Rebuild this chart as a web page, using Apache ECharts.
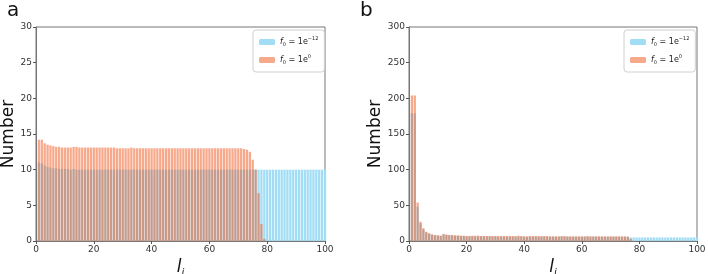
<!DOCTYPE html>
<html>
<head>
<meta charset="utf-8">
<script src="https://cdn.jsdelivr.net/npm/echarts@6/dist/echarts.min.js"></script>
<style>
  html, body { margin: 0; padding: 0; background: #fff; }
  #chart { width: 708px; height: 274px; }
</style>
</head>
<body>
<div id="chart"></div>
<script>
// bar positions l_i = 1..100
const idx = Array.from({ length: 100 }, (_, i) => i + 1);

const seriesNames = ['f0 = 1e-12', 'f0 = 1e0'];

// panel a
const aBlue = [
  11.0, 10.9, 10.6, 10.4, 10.3, 10.2, 10.2, 10.1, 10.1, 10.1,
  10.1, 10.0, 10.1, 10.0, 10.0, 10.0, 10.0, 10.0, 10.0, 10.0,
  10.0, 10.0, 10.0, 10.0, 10.0, 10.0, 10.0, 10.0, 10.0, 10.0,
  10.0, 10.0, 10.0, 10.0, 10.0, 10.0, 10.0, 10.0, 10.0, 10.0,
  10.0, 10.0, 10.0, 10.0, 10.0, 10.0, 10.0, 10.0, 10.0, 10.0,
  10.0, 10.0, 10.0, 10.0, 10.0, 10.0, 10.0, 10.0, 10.0, 10.0,
  10.0, 10.0, 10.0, 10.0, 10.0, 10.0, 10.0, 10.0, 10.0, 10.0,
  10.0, 10.0, 10.0, 10.0, 10.0, 10.0, 10.0, 10.0, 10.0, 10.0,
  10.0, 10.0, 10.0, 10.0, 10.0, 10.0, 10.0, 10.0, 10.0, 10.0,
  10.0, 10.0, 10.0, 10.0, 10.0, 10.0, 10.0, 10.0, 10.0, 10.0
];
const aOrange = [
  14.2, 14.2, 13.7, 13.5, 13.4, 13.3, 13.2, 13.2, 13.1, 13.1,
  13.1, 13.1, 13.2, 13.2, 13.1, 13.1, 13.1, 13.1, 13.1, 13.1,
  13.1, 13.1, 13.1, 13.1, 13.1, 13.1, 13.1, 13.0, 13.0, 13.0,
  13.0, 13.0, 13.1, 13.0, 13.0, 13.0, 13.0, 13.0, 13.0, 13.0,
  13.0, 13.0, 13.0, 13.0, 13.0, 13.0, 13.0, 13.0, 13.0, 13.0,
  13.0, 13.0, 13.0, 13.0, 13.0, 13.0, 13.0, 13.0, 13.0, 13.0,
  13.0, 13.0, 13.0, 13.0, 13.0, 13.0, 13.0, 13.0, 13.0, 13.0,
  13.0, 12.9, 12.8, 12.5, 11.4, 10.0, 6.7, 2.4, 0.3, 0,
  0, 0, 0, 0, 0, 0, 0, 0, 0, 0,
  0, 0, 0, 0, 0, 0, 0, 0, 0, 0
];

// panel b
const bBlue = [
  179, 179, 48, 25, 16, 12, 10, 8.5, 8, 7.5,
  7, 9, 8.5, 8, 7.5, 7.5, 7, 7, 7, 6.5,
  6.5, 6.5, 6.5, 6.5, 6.5, 6.5, 6.5, 6.5, 6.5, 6.5,
  6, 6, 6, 6, 6, 6, 6, 6, 6, 6,
  6, 6, 6, 6, 6, 6, 6, 6, 6, 6,
  6, 6, 6, 6, 6, 6, 6, 6, 6, 6,
  6, 6, 6, 6, 6, 6, 6, 6, 6, 6,
  6, 6, 6, 6, 6, 6, 5, 5, 5, 5,
  5, 5, 5, 5, 5, 5, 5, 5, 5, 5,
  5, 5, 5, 5, 5, 5, 5, 5, 5, 5
];
const bOrange = [
  204, 204, 54, 27, 18, 13, 11, 9.5, 8.5, 8,
  7.5, 10, 9, 8.5, 8.5, 8, 8, 7.5, 7.5, 7,
  7, 7.5, 7.5, 7.5, 7, 7, 7, 7, 7, 7,
  7, 7, 7, 7, 7, 7, 7, 7.5, 7, 6.5,
  6.5, 7, 7, 7, 7, 7, 7, 7, 6.5, 6.5,
  6.5, 6.5, 7, 7, 6.5, 6.5, 6.5, 6.5, 6.5, 6.5,
  6.5, 7, 6.5, 6.5, 6.5, 6.5, 6.5, 6.5, 6.5, 6.5,
  6.5, 6.5, 6.5, 6.5, 6.5, 6, 3, 0, 0, 0,
  0, 0, 0, 0, 0, 0, 0, 0, 0, 0,
  0, 0, 0, 0, 0, 0, 0, 0, 0, 0
];

const blueColor = '#a2ddf6';
const orangeColor = 'rgba(240,90,35,0.52)';

const richLegend = {
  i: { fontStyle: 'italic', fontSize: 8, color: '#222', lineHeight: 14, verticalAlign: 'middle' },
  s: { fontSize: 5, color: '#222', lineHeight: 14, verticalAlign: 'bottom', padding: [0, 0, 2, 0] },
  t: { fontSize: 8, color: '#222', lineHeight: 14, verticalAlign: 'middle' },
  p: { fontSize: 5, color: '#222', lineHeight: 14, verticalAlign: 'top', padding: [1, 0, 0, 0] }
};
function legendLabel(name) {
  return name === seriesNames[0]
    ? '{i|f}{s|0}{t| = 1e}{p|\u221212}'
    : '{i|f}{s|0}{t| = 1e}{p|0}';
}

const pairs = arr => arr.map((v, i) => [idx[i], v]);

function axisPair(gi, ymax, yint) {
  const x = {
    type: 'value', gridIndex: gi, min: 0, max: 100, interval: 20,
    name: '{a|l}{b|i}', nameLocation: 'middle', nameGap: 13,
    nameTextStyle: {
      lineHeight: 20,
      rich: {
        a: { fontSize: 17, lineHeight: 20, fontStyle: 'italic', color: '#111', fontFamily: 'DejaVu Sans', verticalAlign: 'top' },
        b: { fontSize: 10, lineHeight: 20, fontStyle: 'italic', color: '#111', fontFamily: 'DejaVu Sans', verticalAlign: 'bottom' }
      }
    },
    axisLine: { show: true, lineStyle: { color: '#777', width: 1 } },
    axisTick: { show: true, length: 3, lineStyle: { color: '#555' } },
    axisLabel: { fontSize: 9, color: '#333', margin: 4 },
    splitLine: { show: false }
  };
  const y = {
    type: 'value', gridIndex: gi, min: 0, max: ymax, interval: yint,
    name: 'Number', nameLocation: 'middle', nameRotate: 90, nameGap: 17,
    nameTextStyle: { fontSize: 17, color: '#111', fontFamily: 'DejaVu Sans' },
    axisLine: { show: true, lineStyle: { color: '#777', width: 1 } },
    axisTick: { show: true, length: 3, lineStyle: { color: '#555' } },
    axisLabel: { fontSize: 9, color: '#333', margin: 4 },
    splitLine: { show: false }
  };
  return [x, y];
}

const [ax, ay] = axisPair(0, 30, 5);
const [bx, by] = axisPair(1, 300, 50);

function barSeries(name, data, gi, color) {
  return {
    name: name, type: 'bar', xAxisIndex: gi, yAxisIndex: gi,
    data: pairs(data), barWidth: 2.3, barGap: '-100%',
    itemStyle: { color: color },
    clip: true
  };
}

function legendAt(left) {
  return {
    data: seriesNames, left: left, top: 30, orient: 'vertical',
    itemWidth: 16, itemHeight: 6, itemGap: 4,
    padding: [5, 6, 5, 6],
    borderColor: '#d0d0d0', borderWidth: 1, borderRadius: 3,
    backgroundColor: '#fff',
    formatter: legendLabel,
    textStyle: { fontSize: 8, color: '#222', rich: richLegend }
  };
}

const chart = echarts.init(document.getElementById('chart'));
chart.setOption({
  animation: false,
  backgroundColor: '#fff',
  textStyle: { fontFamily: 'DejaVu Sans' },
  title: [
    { text: 'a', left: 2, top: -4, textStyle: { fontSize: 20, fontWeight: 'normal', color: '#111' } },
    { text: 'b', left: 355, top: -4, textStyle: { fontSize: 20, fontWeight: 'normal', color: '#111' } }
  ],
  legend: [legendAt(253), legendAt(624)],
  grid: [
    { left: 36, top: 27, width: 289, height: 214, outerBoundsMode: 'none', show: true, borderColor: '#777', borderWidth: 1 },
    { left: 409, top: 27, width: 288, height: 214, outerBoundsMode: 'none', show: true, borderColor: '#777', borderWidth: 1 }
  ],
  xAxis: [ax, bx],
  yAxis: [ay, by],
  series: [
    barSeries(seriesNames[0], aBlue, 0, blueColor),
    barSeries(seriesNames[1], aOrange, 0, orangeColor),
    barSeries(seriesNames[0], bBlue, 1, blueColor),
    barSeries(seriesNames[1], bOrange, 1, orangeColor)
  ]
});
</script>
</body>
</html>
